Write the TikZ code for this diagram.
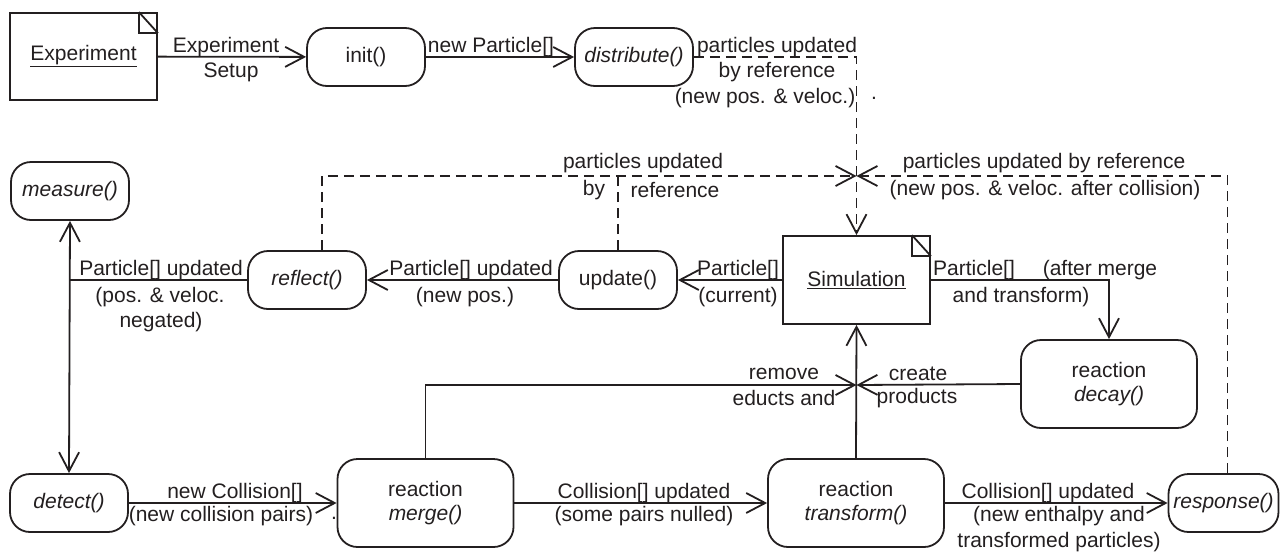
\documentclass[tikz,border=0pt]{standalone}
\usepackage{fontspec}
\setmainfont{Liberation Sans}
\usetikzlibrary{arrows.meta}
\definecolor{ink}{RGB}{35,31,32}
\newcommand\dogear[1]{%
  \draw ([xshift=-19pt]#1.north east) -- ([xshift=-19pt,yshift=-21pt]#1.north east)
        -- ([yshift=-21pt]#1.north east);
  \draw ([xshift=-19pt]#1.north east) -- ([yshift=-21pt]#1.north east);}
\begin{document}
\begin{tikzpicture}[x=1pt,y=-1pt,
  every node/.style={font=\fontsize{21}{24}\selectfont, text=ink},
  actbox/.style={draw, rounded corners=20pt, inner sep=0pt, align=center},
  objbox/.style={draw, inner sep=0pt, align=center},
  small/.style={minimum width=118pt, minimum height=58pt},
  big/.style={minimum width=176pt, minimum height=88pt},
  lab/.style={inner sep=0pt},
  flow/.style={-{Straight Barb[length=19pt,width=20pt]}},
  twoflow/.style={{Straight Barb[length=19pt,width=20pt]}-{Straight Barb[length=19pt,width=20pt]}},
  byref/.style={dash pattern=on 10pt off 6pt},
  line width=1.8pt, draw=ink]
\useasboundingbox (0,0) rectangle (1281,552);

% objects
\node[objbox, minimum width=147pt, minimum height=87pt] (exp) at (83.5,56.5) {\underline{Experiment}};
\dogear{exp}
\node[objbox, minimum width=147pt, minimum height=88pt] (sim) at (856.5,280) {\underline{Simulation}};
\dogear{sim}

% actions
\node[actbox, small] (init) at (366,57) {init()};
\node[actbox, small] (dist) at (634,57) {\textit{distribute()}};
\node[actbox, small] (meas) at (70,191) {\textit{measure()}};
\node[actbox, small] (refl) at (307,280) {\textit{reflect()}};
\node[actbox, small] (upd) at (618,280) {update()};
\node[actbox, big] (decay) at (1109,384) {reaction\\\textit{decay()}};
\node[actbox, small] (det) at (69,503) {\textit{detect()}};
\node[actbox, big] (merge) at (425.5,503) {reaction\\\textit{merge()}};
\node[actbox, big] (trans) at (856,503) {reaction\\\textit{transform()}};
\node[actbox, minimum width=110pt, minimum height=58pt] (resp) at (1223.5,503) {\textit{response()}};

% junctions
\coordinate (cross) at (856.5,176);
\coordinate (join) at (856.5,385);

% set-up chain
\draw[flow] (exp) -- (init);
\draw[flow] (init) -- (dist);
\draw[flow, byref] (dist.east) -| (sim.north);

% motion chain
\draw[flow] (sim.west) -- (upd.east);
\draw[flow] (upd.west) -- (refl.east);
\draw (refl.west) -- (refl.west -| meas.south);
\draw[twoflow] (meas.south) -- (det.north);
\draw[flow, byref] ([xshift=15pt]refl.north) |- (cross);
\draw[byref] (upd.north) -- (upd.north |- cross);
\draw[flow, byref] ([xshift=4pt]resp.north) |- (cross);

% collision chain
\draw[flow] (det.east) -- (merge.west);
\draw[flow] (merge.east) -- (trans.west);
\draw[flow] (trans.east) -- (resp.west);
\draw[flow] (merge.north) |- (join);
\draw[flow] (decay.west) -- (join);
\draw[flow] (trans.north) -- (sim.south);
\draw[flow] (sim.east) -| (decay.north);

% labels
\node[lab] (l1) at (226,47) {Experiment};
\node[lab] (l2) at (231,72) {Setup};
\node[lab] (l3) at (491,47) {new Particle[]};
\node[lab] (l4) at (777,47) {particles updated};
\node[lab] (l5) at (777,72) {by reference};
\node[lab] (l6) at (765,98) {(new pos. \& veloc.)};
\node[lab] (l7) at (874,98) {.};
\node[lab] (l8) at (643,163) {particles updated};
\node[lab] (l9) at (594,190) {by};
\node[lab] (l10) at (675,190) {reference};
\node[lab] (l11) at (1044,163) {particles updated by reference};
\node[lab] (l12) at (1045,190) {(new pos. \& veloc. after collision)};
\node[lab] (l13) at (161,270) {Particle[] updated};
\node[lab] (l14) at (160,297) {(pos. \& veloc.};
\node[lab] (l15) at (161,322) {negated)};
\node[lab] (l16) at (471,270) {Particle[] updated};
\node[lab] (l17) at (465,297) {(new pos.)};
\node[lab] (l18) at (738,270) {Particle[]};
\node[lab] (l19) at (738,297) {(current)};
\node[lab] (l20) at (974,270) {Particle[]};
\node[lab] (l21) at (1100,270) {(after merge};
\node[lab] (l22) at (1021,297) {and transform)};
\node[lab] (l23) at (784,374) {remove};
\node[lab] (l24) at (784,398) {educts and};
\node[lab] (l25) at (918,374) {create};
\node[lab] (l26) at (917,398) {products};
\node[lab] (l27) at (235,493) {new Collision[]};
\node[lab] (l28) at (221,516) {(new collision pairs)};
\node[lab] (l29) at (334,518) {.};
\node[lab] (l30) at (644,493) {Collision[] updated};
\node[lab] (l31) at (644,516) {(some pairs nulled)};
\node[lab] (l32) at (1048,493) {Collision[] updated};
\node[lab] (l33) at (1059,516) {(new enthalpy and};
\node[lab] (l34) at (1059,542) {transformed particles)};
\end{tikzpicture}
\end{document}
